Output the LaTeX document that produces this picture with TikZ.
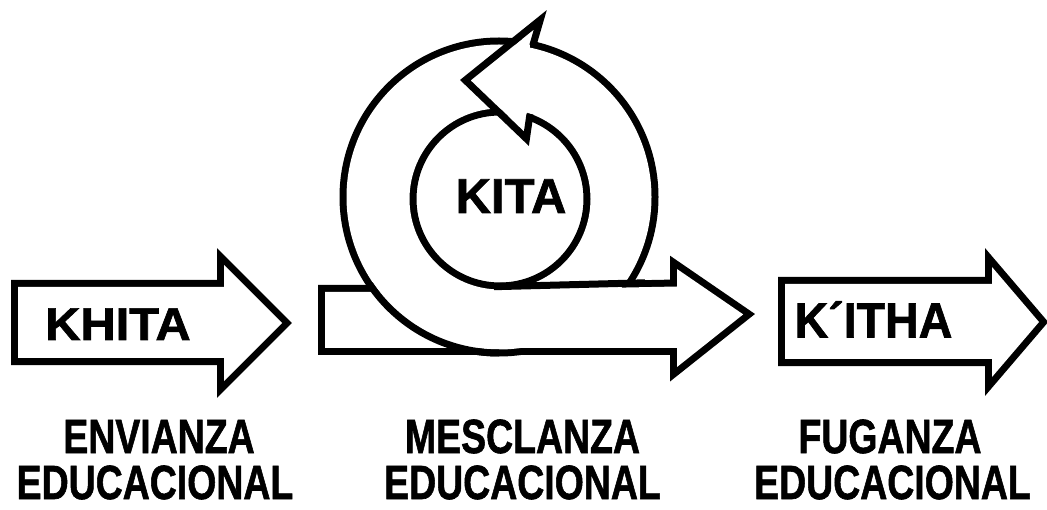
\documentclass[tikz,border=0pt]{standalone}
\usepackage{fontspec}
\setmainfont{Liberation Sans}
\newfontfamily\heavyfont[FakeBold=1.4]{Liberation Sans Bold}
\newcommand\midshaftpath{(325,292) -- (420,292) -- (500,290) -- (677,286.5) -- (677,269) -- (743.2,314.4) -- (677,367) -- (677,348) -- (325,348) -- cycle}
\newcommand\ringpath{(499,197) circle [radius=152.5] (500,199) circle [radius=90.5]}
\begin{document}
\begin{tikzpicture}[x=1bp,y=-1bp,
  outline/.style={draw=black, line width=14bp, line join=miter, miter limit=20},
  paper/.style={fill=white},
  edgeline/.style={draw=black, line width=7bp, line join=miter, miter limit=20},
  boxarrow/.style={preaction={draw=black, line width=14bp, line join=miter, miter limit=20}, fill=white},
  biglbl/.style={font=\heavyfont\fontsize{#1bp}{#1bp}\selectfont, inner sep=0pt, anchor=base, text=black},
  sublbl/.style={font=\heavyfont\fontsize{48bp}{48bp}\selectfont, inner sep=0pt, anchor=base, text=black, xscale=0.78}]
\useasboundingbox (0,0) rectangle (1047,510);
\fill[white] (0,0) rectangle (1047,510);
\clip (0,0) rectangle (1047,510);

% left arrow
\path[boxarrow] (18,287) -- (224,287) -- (224,265) -- (282,323) -- (224,381) -- (224,358) -- (18,358) -- cycle;
% right arrow
\path[boxarrow] (785,284) -- (992,284) -- (992,267) -- (1039,322) -- (992,377) -- (992,359) -- (785,359) -- cycle;

% middle arrow with loop: union outline
\path[outline] \midshaftpath;
\path[outline] \ringpath;
\path[paper] \midshaftpath;
\path[paper, even odd rule] \ringpath;
% visible inner edges
\draw[edgeline] plot[domain=146:90, samples=40] ({499+156*cos(\x)}, {197+156*sin(\x)});
\draw[edgeline] (494,286.7) -- (645,282.8);
% arrowhead of the loop
\path[paper] (470.6,80.5) -- (533.4,30) -- (530,44) -- (528,100) -- (527,115) -- (525,132) -- cycle;
\draw[edgeline] (530,114) -- (526.4,138.7) -- (465.3,80.2) -- (540.3,19.8) -- (532.8,45.5);

% texts
\node[biglbl=46, xscale=1.06] (khita) at (118,340) {KHITA};
\node[biglbl=49] (kita) at (511,213) {KITA};
\node[biglbl=49.5, xscale=0.94] (kitha) at (873.5,337.5) {K´ITHA};

\node[sublbl] (envianza) at (159,453) {ENVIANZA};
\node[sublbl] (edu1) at (155,499) {EDUCACIONAL};
\node[sublbl] (mesclanza) at (522.5,453) {MESCLANZA};
\node[sublbl] (edu2) at (522.5,499) {EDUCACIONAL};
\node[sublbl] (fuganza) at (890,453) {FUGANZA};
\node[sublbl] (edu3) at (892.5,499) {EDUCACIONAL};
\end{tikzpicture}
\end{document}
